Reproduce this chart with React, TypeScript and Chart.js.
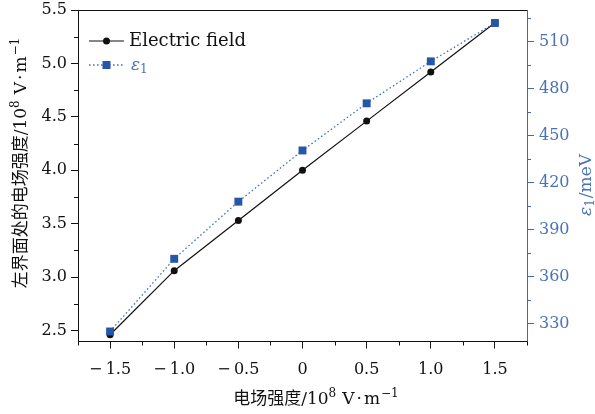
import React, { useEffect, useRef } from 'react';
import { Chart, registerables } from 'chart.js';

Chart.register(...registerables);

// Applied field strength (10^8 V/m)
const fieldStrength = [-1.5, -1.0, -0.5, 0, 0.5, 1.0, 1.5];
// Electric field at the left interface (10^8 V/m)
const interfaceField = [2.46, 3.06, 3.53, 4.0, 4.46, 4.92, 5.38];
// ε1 (meV)
const epsilon1 = [325.1, 371.5, 408.0, 440.7, 470.8, 497.6, 522.1];

const xMajorTicks = [-1.5, -1.0, -0.5, 0, 0.5, 1.0, 1.5];
const xMinorTicks = [-1.75, -1.25, -0.75, -0.25, 0.25, 0.75, 1.25, 1.75];
const leftMajorTicks = [2.5, 3.0, 3.5, 4.0, 4.5, 5.0, 5.5];
const leftMinorTicks = [2.75, 3.25, 3.75, 4.25, 4.75, 5.25];
const rightMajorTicks = [330, 360, 390, 420, 450, 480, 510];
const rightMinorTicks = [345, 375, 405, 435, 465, 495, 525];

const SERIF = '"DejaVu Serif", "Noto Sans CJK SC", serif';
const CJK = '"Noto Sans CJK SC", sans-serif';
const BLACK = '#111111';
const BLUE_MARK = '#2457a8';
const BLUE_LINE = '#3d6cc0';
const BLUE_TEXT = '#4a72b8';
const BLUE_AXIS = '#4168b0';

const fmtX = (v: number) => {
  if (v === 0) return '0';
  const s = Math.abs(v).toFixed(1);
  return v < 0 ? '\u2212\u2009' + s : s;
};

type Part = { t: string; font: string; dy?: number; pre?: number };

// Draws a run of text pieces centred on (0, 0) of the current transform.
function drawRich(ctx: CanvasRenderingContext2D, parts: Part[], baseline: number) {
  let total = 0;
  const widths = parts.map((p) => {
    ctx.font = p.font;
    const w = ctx.measureText(p.t).width;
    total += w + (p.pre || 0);
    return w;
  });
  let x = -total / 2;
  ctx.textAlign = 'left';
  ctx.textBaseline = 'alphabetic';
  parts.forEach((p, i) => {
    x += p.pre || 0;
    ctx.font = p.font;
    ctx.fillText(p.t, x, baseline + (p.dy || 0));
    x += widths[i];
  });
}

const unitParts = (): Part[] => {
  const main = '17px ' + SERIF;
  const sup = '12px ' + SERIF;
  return [
    { t: '/10', font: main },
    { t: '8', font: sup, dy: -7 },
    { t: 'V', font: main, pre: 6 },
    { t: '·', font: main, pre: 2 },
    { t: 'm', font: main, pre: 2 },
    { t: '−1', font: sup, dy: -7, pre: 1 },
  ];
};

const decorations = {
  id: 'decorations',
  afterDraw(chart: any) {
    const ctx: CanvasRenderingContext2D = chart.ctx;
    const area = chart.chartArea;
    const sx = chart.scales.x;
    const sy = chart.scales.y;
    const sy1 = chart.scales.y1;

    ctx.save();
    // top frame line
    ctx.strokeStyle = BLACK;
    ctx.lineWidth = 1;
    ctx.beginPath();
    ctx.moveTo(area.left, Math.round(area.top) + 0.5);
    ctx.lineTo(area.right, Math.round(area.top) + 0.5);
    ctx.stroke();

    // minor ticks
    const minorLen = 4;
    ctx.strokeStyle = BLACK;
    ctx.beginPath();
    xMinorTicks.forEach((v) => {
      const px = Math.round(sx.getPixelForValue(v)) + 0.5;
      ctx.moveTo(px, area.bottom);
      ctx.lineTo(px, area.bottom + minorLen);
    });
    leftMinorTicks.forEach((v) => {
      const py = Math.round(sy.getPixelForValue(v)) + 0.5;
      ctx.moveTo(area.left, py);
      ctx.lineTo(area.left - minorLen, py);
    });
    ctx.stroke();
    ctx.strokeStyle = BLUE_AXIS;
    ctx.beginPath();
    rightMinorTicks.forEach((v) => {
      const py = Math.round(sy1.getPixelForValue(v)) + 0.5;
      ctx.moveTo(area.right, py);
      ctx.lineTo(area.right + minorLen, py);
    });
    ctx.stroke();

    // bottom axis title
    ctx.fillStyle = BLACK;
    ctx.save();
    ctx.translate(316, 398);
    drawRich(ctx, [{ t: '电场强度', font: '17px ' + CJK }, ...unitParts()], 6);
    ctx.restore();

    // left axis title
    ctx.save();
    ctx.translate(20, 163);
    ctx.rotate(-Math.PI / 2);
    drawRich(ctx, [{ t: '左界面处的电场强度', font: '17px ' + CJK }, ...unitParts()], 6);
    ctx.restore();

    // right axis title: ε1/meV
    ctx.save();
    ctx.translate(585, 185);
    ctx.rotate(-Math.PI / 2);
    ctx.fillStyle = BLUE_TEXT;
    drawRich(
      ctx,
      [
        { t: 'ε', font: 'italic 17px ' + SERIF },
        { t: '1', font: '12px ' + SERIF, dy: 3 },
        { t: '/meV', font: '17px ' + SERIF, pre: 1 },
      ],
      6
    );
    ctx.restore();

    // legend
    const lx0 = 89;
    const lx1 = 124;
    const mx = (lx0 + lx1) / 2;
    const r1 = 41;
    const r2 = 65;
    ctx.strokeStyle = BLACK;
    ctx.lineWidth = 1.2;
    ctx.setLineDash([]);
    ctx.beginPath();
    ctx.moveTo(lx0, r1);
    ctx.lineTo(lx1, r1);
    ctx.stroke();
    ctx.fillStyle = BLACK;
    ctx.beginPath();
    ctx.arc(mx, r1, 3.5, 0, Math.PI * 2);
    ctx.fill();
    ctx.font = '18px ' + SERIF;
    ctx.textAlign = 'left';
    ctx.textBaseline = 'middle';
    ctx.fillText('Electric field', 129, r1);

    ctx.strokeStyle = BLUE_LINE;
    ctx.lineWidth = 1.3;
    ctx.setLineDash([1.5, 2.5]);
    ctx.beginPath();
    ctx.moveTo(lx0, r2);
    ctx.lineTo(lx1, r2);
    ctx.stroke();
    ctx.setLineDash([]);
    ctx.fillStyle = BLUE_MARK;
    ctx.fillRect(mx - 4, r2 - 4, 8, 8);
    ctx.fillStyle = BLUE_TEXT;
    ctx.textBaseline = 'alphabetic';
    ctx.font = 'italic 17px ' + SERIF;
    ctx.fillText('ε', 131, r2 + 5);
    const we = ctx.measureText('ε').width;
    ctx.font = '12px ' + SERIF;
    ctx.fillText('1', 131 + we, r2 + 8);
    ctx.restore();
  },
};

export default function App() {
  const canvasRef = useRef<HTMLCanvasElement | null>(null);

  useEffect(() => {
    const canvas = canvasRef.current;
    if (!canvas) return;
    const tickFont = { family: SERIF, size: 16 };
    const chart = new Chart(canvas, {
      type: 'line',
      data: {
        datasets: [
          {
            label: 'Electric field',
            data: fieldStrength.map((x, i) => ({ x, y: interfaceField[i] })),
            yAxisID: 'y',
            borderColor: BLACK,
            borderWidth: 1.2,
            pointRadius: 3.5,
            pointBackgroundColor: BLACK,
            pointBorderWidth: 0,
            tension: 0,
            order: 2,
          },
          {
            label: 'ε1',
            data: fieldStrength.map((x, i) => ({ x, y: epsilon1[i] })),
            yAxisID: 'y1',
            borderColor: BLUE_LINE,
            borderWidth: 1.3,
            borderDash: [1.5, 2.5],
            pointStyle: 'rect',
            pointRadius: 5.6,
            pointBackgroundColor: BLUE_MARK,
            pointBorderWidth: 0,
            tension: 0,
            order: 1,
          },
        ],
      },
      options: {
        animation: false,
        responsive: false,
        clip: false,
        layout: { padding: { top: 10, left: 0, right: 0, bottom: 0 } },
        plugins: { legend: { display: false }, tooltip: { enabled: false } },
        scales: {
          x: {
            type: 'linear',
            position: 'bottom',
            min: -1.75,
            max: 1.75,
            afterBuildTicks: (s: any) => {
              s.ticks = xMajorTicks.map((v) => ({ value: v }));
            },
            afterFit: (s: any) => {
              s.height = 72.5;
              s.paddingLeft = 0;
              s.paddingRight = 0;
            },
            ticks: {
              callback: (v: any) => fmtX(Number(v)),
              font: tickFont,
              color: BLACK,
              padding: 12,
              maxRotation: 0,
              autoSkip: false,
            },
            grid: { drawOnChartArea: false, tickLength: 7, tickColor: BLACK, tickWidth: 1 },
            border: { color: BLACK, width: 1 },
          },
          y: {
            type: 'linear',
            position: 'left',
            min: 2.397,
            max: 5.5,
            afterBuildTicks: (s: any) => {
              s.ticks = leftMajorTicks.map((v) => ({ value: v }));
            },
            afterFit: (s: any) => {
              s.width = 78;
              s.paddingTop = 0;
              s.paddingBottom = 0;
            },
            ticks: {
              callback: (v: any) => Number(v).toFixed(1),
              font: tickFont,
              color: BLACK,
              padding: 4,
              autoSkip: false,
            },
            grid: { drawOnChartArea: false, tickLength: 7, tickColor: BLACK, tickWidth: 1 },
            border: { color: BLACK, width: 1 },
          },
          y1: {
            type: 'linear',
            position: 'right',
            min: 318.7,
            max: 530.4,
            afterBuildTicks: (s: any) => {
              s.ticks = rightMajorTicks.map((v) => ({ value: v }));
            },
            afterFit: (s: any) => {
              s.width = 68;
              s.paddingTop = 0;
              s.paddingBottom = 0;
            },
            ticks: {
              callback: (v: any) => String(v),
              font: tickFont,
              color: BLUE_TEXT,
              padding: 5,
              autoSkip: false,
            },
            grid: { drawOnChartArea: false, tickLength: 7, tickColor: BLUE_AXIS, tickWidth: 1 },
            border: { color: BLUE_AXIS, width: 1 },
          },
        },
      },
      plugins: [decorations],
    });
    return () => chart.destroy();
  }, []);

  return (
    <div style={{ position: 'absolute', left: 0, top: 0, width: 595, height: 414, background: '#fff' }}>
      <canvas ref={canvasRef} width={595} height={414} style={{ display: 'block' }} />
    </div>
  );
}
